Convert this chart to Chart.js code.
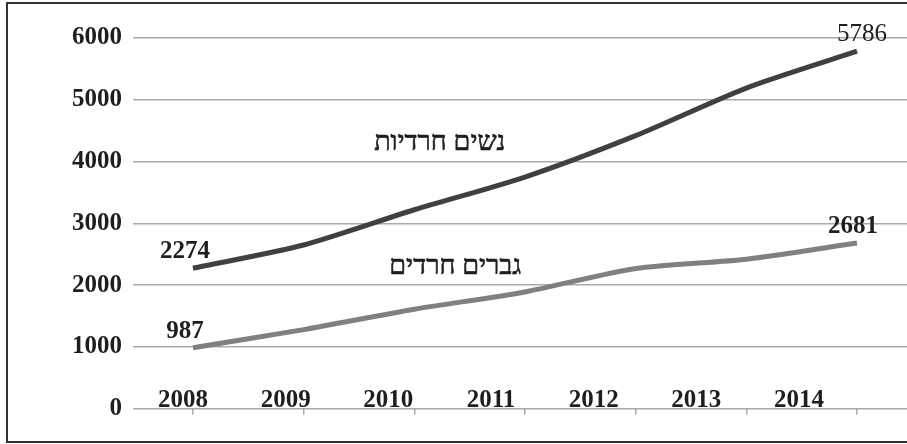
<!DOCTYPE html>
<html>
<head>
<meta charset="utf-8">
<title>נשים וגברים חרדים</title>
<script src="https://cdn.jsdelivr.net/npm/chart.js@4.4.0/dist/chart.umd.min.js"></script>
<style>
html, body { margin: 0; padding: 0; background: #fff; overflow: hidden; }
#frame { position: absolute; left: 6px; top: 2px; width: 960px; height: 437px; border: 2px solid #333; }
#chart { position: absolute; left: 0; top: 0; }
</style>
</head>
<body>
<div id="frame"></div>
<canvas id="chart" width="907" height="444"></canvas>
<script>
var years = [2008, 2009, 2010, 2011, 2012, 2013, 2014];
var women = [2274, 2650, 3220, 3750, 4420, 5190, 5786];
var men = [987, 1280, 1610, 1890, 2270, 2420, 2681];
var seriesNames = ["נשים חרדיות", "גברים חרדים"];
var yMin = 0, yMax = 6000, yStep = 1000;

var serif = '"Liberation Serif", "DejaVu Serif", serif';

function pairs(vals) {
	return years.map(function(y, i) { return { x: y, y: vals[i] }; });
}
function yearTicks(scale) {
	scale.ticks = years.map(function(v) { return { value: v }; });
}

// first/last values and the series names written on the plot
var lineLabels = {
	id: 'lineLabels',
	afterDatasetsDraw: function(chart) {
		var ctx = chart.ctx;
		var xs = chart.scales.x, ys = chart.scales.y;
		ctx.save();
		ctx.fillStyle = '#1e1e1e';
		ctx.textAlign = 'center';
		ctx.textBaseline = 'alphabetic';
		chart.data.datasets.forEach(function(ds, i) {
			var pts = chart.getDatasetMeta(i).data;
			var n = pts.length - 1;
			ctx.font = 'bold 25px ' + serif;
			ctx.fillText(ds.data[0].y, pts[0].x - 8, pts[0].y - 10);
			ctx.font = (i == 0 ? '' : 'bold ') + '25px ' + serif;
			ctx.fillText(ds.data[n].y, pts[n].x + (i == 0 ? 5 : -4), pts[n].y - 10);
		});
		// name anchors (in axis units)
		var anchors = [[2010.23, 4300], [2010.37, 2300]];
		ctx.font = '27px ' + serif;
		ctx.textBaseline = 'middle';
		ctx.strokeStyle = '#1e1e1e';
		ctx.lineWidth = 0.6;
		seriesNames.forEach(function(name, i) {
			var px = xs.getPixelForValue(anchors[i][0]), py = ys.getPixelForValue(anchors[i][1]);
			ctx.fillText(name, px, py);
			ctx.strokeText(name, px, py);
		});
		ctx.restore();
	}
};

new Chart(document.getElementById('chart'), {
	type: 'line',
	data: {
		datasets: [
			{ label: seriesNames[0], data: pairs(women), borderColor: '#404040', borderWidth: 5, pointRadius: 0, tension: 0.25, fill: false },
			{ label: seriesNames[1], data: pairs(men), borderColor: '#808080', borderWidth: 5, pointRadius: 0, tension: 0.25, fill: false }
		]
	},
	options: {
		responsive: false,
		animation: false,
		layout: { padding: { top: 38, right: 0, bottom: 0, left: 0 } },
		plugins: { legend: { display: false }, tooltip: { enabled: false } },
		scales: {
			x: {
				type: 'linear',
				min: 2007.458,
				max: 2014.452,
				afterBuildTicks: yearTicks,
				ticks: { display: false },
				grid: { display: true, drawOnChartArea: false, drawTicks: true, tickLength: 6, color: '#aaa', lineWidth: 1.5 },
				border: { display: false },
				afterFit: function(s) { s.height = 35.3; }
			},
			x2: {
				type: 'linear',
				axis: 'x',
				position: { y: 0 },
				min: 2007.513,
				max: 2015.052,
				afterBuildTicks: yearTicks,
				ticks: {
					padding: -23,
					color: '#1e1e1e',
					font: { family: serif, size: 25, weight: 'bold' },
					callback: function(v) { return String(v); }
				},
				grid: { display: false, drawTicks: false },
				border: { display: false }
			},
			y: {
				min: yMin,
				max: yMax,
				ticks: {
					stepSize: yStep,
					padding: 11,
					color: '#1e1e1e',
					font: { family: serif, size: 25, weight: 'bold' },
					callback: function(v) { return String(v); }
				},
				grid: { color: '#aaa', lineWidth: 1.5, drawTicks: false },
				border: { display: false },
				afterFit: function(s) { s.width = 133; }
			}
		}
	},
	plugins: [lineLabels]
});
</script>
</body>
</html>
